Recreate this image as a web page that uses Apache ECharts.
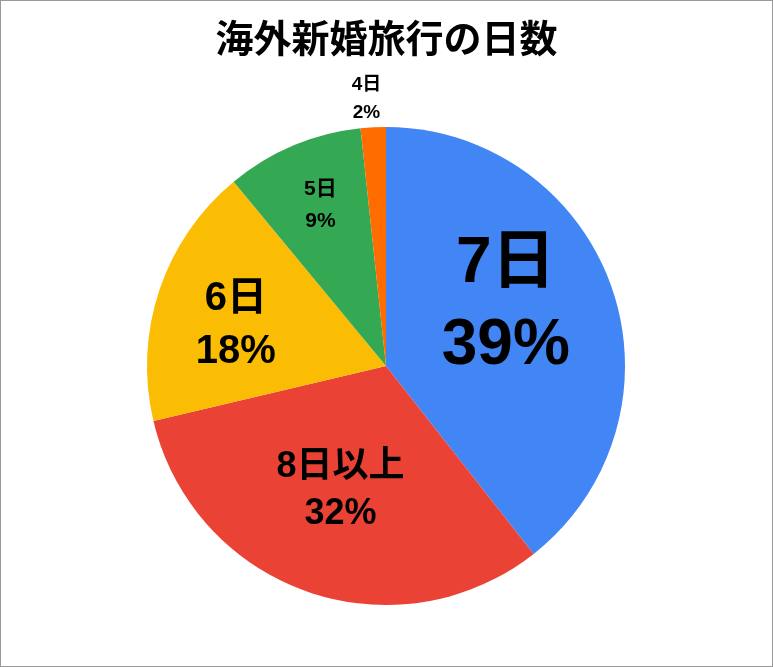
<!DOCTYPE html>
<html>
<head>
<meta charset="utf-8">
<script src="https://cdn.jsdelivr.net/npm/echarts@6/dist/echarts.min.js"></script>
<style>
html, body { margin: 0; padding: 0; background: #fff; }
#chart { width: 773px; height: 667px; box-sizing: border-box; border: 1px solid #999; }
</style>
</head>
<body>
<div id="chart"></div>
<script>
// 日数の区分と割合(%)
var names = ['7日', '8日以上', '6日', '5日', '4日'];
var values = [39.4, 31.9, 17.7, 9.3, 1.7];
var colors = ['#4285F4', '#EA4335', '#FBBC04', '#34A853', '#FF6D01'];

// ラベルの見た目(スライスごと)
var fontSizes = [64, 36, 40, 21, 19];
var lineHeights = [82, 47, 53, 32, 28];
// 内側ラベルの位置補正 [dx, dy]
var shifts = [[4, -21], [-5, 9], [-34, -2], [-18, -48], [-13, -145]];

var myChart = echarts.init(document.getElementById('chart'));

var seriesData = names.map(function(n, i) {
	return {
		name: n,
		value: values[i],
		itemStyle: { color: colors[i] },
		label: {
			fontSize: fontSizes[i],
			lineHeight: lineHeights[i]
		}
	};
});

var option = {
	animation: false,
	title: {
		text: '海外新婚旅行の日数',
		left: 'center',
		top: 17,
		textStyle: {
			fontSize: 38,
			fontWeight: 'bold',
			color: '#000',
			fontFamily: '"Liberation Sans", "Noto Sans CJK JP", sans-serif'
		}
	},
	series: [{
		type: 'pie',
		center: [385, 365],
		radius: 239,
		startAngle: 90,
		clockwise: true,
		percentPrecision: 0,
		avoidLabelOverlap: false,
		label: {
			show: true,
			position: 'inside',
			formatter: '{b}\n{d}%',
			color: '#000',
			fontWeight: 'bold',
			fontFamily: '"Liberation Sans", "Noto Sans CJK JP", sans-serif'
		},
		labelLine: { show: false },
		labelLayout: function(params) {
			var s = shifts[params.dataIndex];
			return { dx: s[0], dy: s[1] };
		},
		itemStyle: { borderWidth: 0 },
		emphasis: { disabled: true },
		data: seriesData
	}]
};
myChart.setOption(option);
</script>
</body>
</html>
